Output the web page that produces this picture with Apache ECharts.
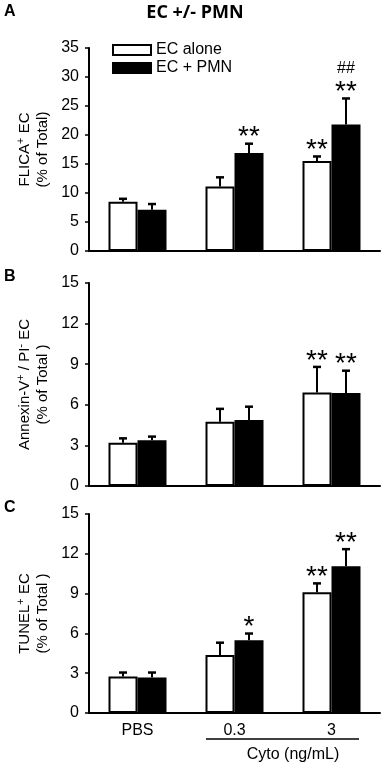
<!DOCTYPE html>
<html>
<head>
<meta charset="utf-8">
<script src="https://cdn.jsdelivr.net/npm/echarts@6/dist/echarts.min.js"></script>
<style>
html,body{margin:0;padding:0;background:#fff;}
#chart{width:383px;height:764px;}
</style>
</head>
<body>
<div id="chart"></div>
<script>
// ---- data ----
const categories = ['PBS', '0.3', '3'];
const seriesNames = ['EC alone', 'EC + PMN'];

// Panel A: FLICA+ EC
const aAlone = [8.5, 11.1, 15.5];
const aAloneErr = [0.5, 1.6, 0.8];
const aPmn = [7.1, 16.9, 21.8];
const aPmnErr = [1.0, 1.6, 4.5];
const aAloneSig = ['', '', '**'];
const aPmnSig = ['', '**', '**'];
const aPmnSig2 = ['', '', '##'];

// Panel B: Annexin-V+ / PI- EC
const bAlone = [3.2, 4.75, 6.9];
const bAloneErr = [0.32, 0.95, 1.9];
const bPmn = [3.38, 4.88, 6.87];
const bPmnErr = [0.27, 0.98, 1.65];
const bAloneSig = ['', '', '**'];
const bPmnSig = ['', '', '**'];
const bPmnSig2 = ['', '', ''];

// Panel C: TUNEL+ EC
const cAlone = [2.75, 4.38, 9.1];
const cAloneErr = [0.3, 0.92, 0.67];
const cPmn = [2.68, 5.49, 11.07];
const cPmnErr = [0.37, 0.5, 1.28];
const cAloneSig = ['', '', '**'];
const cPmnSig = ['', '*', '**'];
const cPmnSig2 = ['', '', ''];

// axis settings
const yMaxA = 35, yIntA = 5;
const yMaxB = 15, yIntB = 3;
const yMaxC = 15, yIntC = 3;

// ---- chart ----
const FONT = 'Liberation Sans, Arial, sans-serif';
const BAR_W = 29;

function errRender(sign, vals, errs, sig, sig2) {
  return function (params, api) {
    const i = params.dataIndex;
    const cx = api.coord([api.value(0), 0])[0] + sign * BAR_W / 2;
    const yBase = api.coord([api.value(0), vals[i]])[1];
    const yTop = api.coord([api.value(0), vals[i] + errs[i]])[1];
    const children = [
      { type: 'line', shape: { x1: cx, y1: yBase, x2: cx, y2: yTop }, style: { stroke: '#000', lineWidth: 2 } },
      { type: 'line', shape: { x1: cx - 4, y1: yTop, x2: cx + 4, y2: yTop }, style: { stroke: '#000', lineWidth: 2.5 } }
    ];
    if (sig[i]) {
      children.push({ type: 'text', style: { text: sig[i], x: cx, y: yTop - 6, align: 'center', verticalAlign: 'middle', font: '28px ' + FONT, fill: '#000' } });
    }
    if (sig2[i]) {
      children.push({ type: 'text', style: { text: sig2[i], x: cx, y: yTop - 30, align: 'center', verticalAlign: 'middle', font: '16px ' + FONT, fill: '#000' } });
    }
    return { type: 'group', children: children };
  };
}

const grids = [
  { left: 89, right: 3, top: 48, height: 203 },
  { left: 89, right: 3, top: 283, height: 203 },
  { left: 89, right: 3, top: 514, height: 199 }
];

const yNames = [
  '{a|FLICA}{s|+}{a| EC}\n{a|(% of Total)}',
  '{a|Annexin-V}{s|+}{a| / PI}{s|-}{a| EC}\n{a|(% of Total )}',
  '{a|TUNEL}{s|+}{a| EC}\n{a|(% of Total )}'
];
const yMaxes = [yMaxA, yMaxB, yMaxC];
const yInts = [yIntA, yIntB, yIntC];

const xAxes = grids.map((g, k) => ({
  type: 'category', gridIndex: k, data: categories,
  axisLine: { lineStyle: { color: '#000', width: 2 } },
  axisTick: { show: false },
  axisLabel: { show: k === 2, color: '#000', fontSize: 16, fontFamily: FONT, margin: 10 }
}));
const yAxes = grids.map((g, k) => ({
  type: 'value', gridIndex: k, min: 0, max: yMaxes[k], interval: yInts[k],
  axisLine: { show: true, lineStyle: { color: '#000', width: 2 } },
  axisTick: { show: true, length: 4, lineStyle: { color: '#000', width: 1.5 } },
  splitLine: { show: false },
  axisLabel: { color: '#000', fontSize: 16, fontFamily: FONT, margin: 10 },
  name: yNames[k], nameLocation: 'middle', nameRotate: 90, nameGap: 31,
  nameTextStyle: {
    rich: {
      a: { fontSize: 15, fontFamily: FONT, color: '#000', lineHeight: 18 },
      s: { fontSize: 11, fontFamily: FONT, color: '#000', lineHeight: 18, verticalAlign: 'top', padding: [0, 0, 6, 0] }
    }
  }
}));

const panels = [
  [aAlone, aAloneErr, aPmn, aPmnErr, aAloneSig, aPmnSig, aPmnSig2],
  [bAlone, bAloneErr, bPmn, bPmnErr, bAloneSig, bPmnSig, bPmnSig2],
  [cAlone, cAloneErr, cPmn, cPmnErr, cAloneSig, cPmnSig, cPmnSig2]
];
const series = [];
const noSig = ['', '', ''];
panels.forEach((p, k) => {
  const [al, alE, pm, pmE, alS, pmS, pmS2] = p;
  series.push({
    name: seriesNames[0], type: 'bar', xAxisIndex: k, yAxisIndex: k, data: al,
    barWidth: BAR_W, barGap: '0%',
    itemStyle: { color: '#fff', borderColor: '#000', borderWidth: 2 }, silent: true
  });
  series.push({
    name: seriesNames[1], type: 'bar', xAxisIndex: k, yAxisIndex: k, data: pm,
    barWidth: BAR_W, barGap: '0%',
    itemStyle: { color: '#000', borderColor: '#000', borderWidth: 2 }, silent: true
  });
  series.push({
    type: 'custom', xAxisIndex: k, yAxisIndex: k, z: 5, silent: true,
    data: categories.map((c, i) => [i, al[i] + alE[i]]),
    renderItem: errRender(-1, al, alE, alS, noSig)
  });
  series.push({
    type: 'custom', xAxisIndex: k, yAxisIndex: k, z: 5, silent: true,
    data: categories.map((c, i) => [i, pm[i] + pmE[i]]),
    renderItem: errRender(1, pm, pmE, pmS, pmS2)
  });
});

const chart = echarts.init(document.getElementById('chart'), null, { renderer: 'canvas' });
chart.setOption({
  animation: false,
  backgroundColor: '#fff',
  grid: grids,
  xAxis: xAxes,
  yAxis: yAxes,
  legend: {
    data: seriesNames, orient: 'vertical', left: 107, top: 37,
    itemWidth: 38, itemHeight: 10, itemGap: 2, icon: 'rect',
    itemStyle: { borderColor: '#000', borderWidth: 2 },
    textStyle: { fontSize: 16, fontFamily: FONT, color: '#000' },
    selectedMode: false
  },
  graphic: [
    { type: 'text', left: 4, top: 4, style: { text: 'A', font: 'bold 16px ' + FONT, fill: '#000' } },
    { type: 'text', left: 4, top: 269, style: { text: 'B', font: 'bold 16px ' + FONT, fill: '#000' } },
    { type: 'text', left: 4, top: 500, style: { text: 'C', font: 'bold 16px ' + FONT, fill: '#000' } },
    { type: 'text', x: 195, y: 13, style: { text: 'EC +/- PMN', font: 'bold 18px "Open Sans", sans-serif', fill: '#000', align: 'center', verticalAlign: 'middle' } },
    { type: 'line', shape: { x1: 206, y1: 739, x2: 359, y2: 739 }, style: { stroke: '#000', lineWidth: 1.5 } },
    { type: 'text', x: 293, y: 755, style: { text: 'Cyto (ng/mL)', font: '16px ' + FONT, fill: '#000', align: 'center', verticalAlign: 'middle' } }
  ],
  series: series
});
</script>
</body>
</html>
